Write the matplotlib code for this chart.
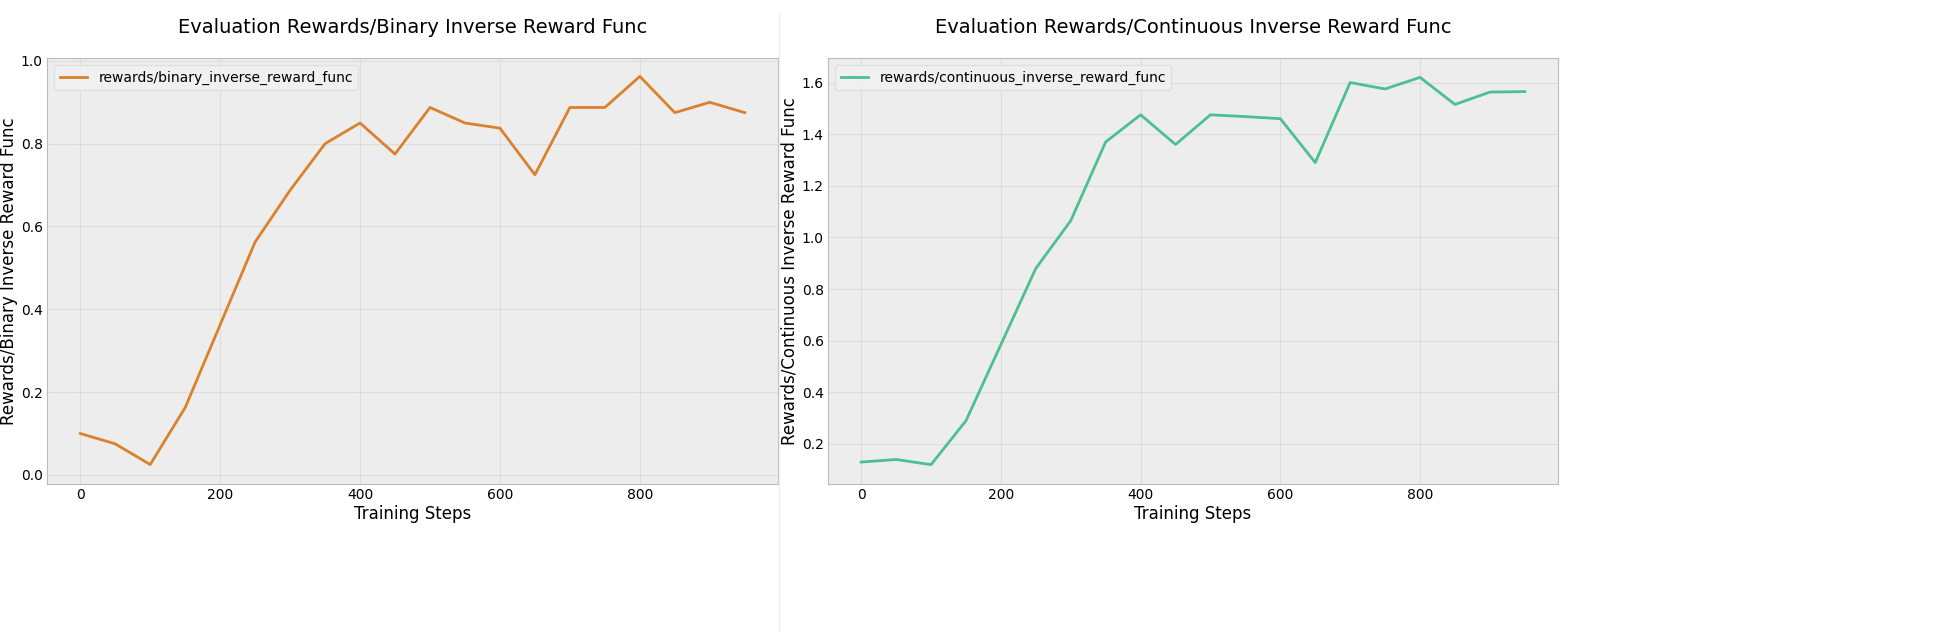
import matplotlib
matplotlib.use("Agg")
import matplotlib.pyplot as plt

steps = list(range(0, 1000, 50))
binary = [0.10, 0.075, 0.025, 0.1625, 0.3625, 0.5625, 0.6875, 0.80, 0.85, 0.775,
          0.8875, 0.85, 0.8375, 0.725, 0.8875, 0.8875, 0.9625, 0.875, 0.90, 0.875]
continuous = [0.13, 0.14, 0.12, 0.29, 0.585, 0.88, 1.065, 1.37, 1.475, 1.36,
              1.475, 1.468, 1.46, 1.29, 1.60, 1.575, 1.62, 1.515, 1.563, 1.565]

fig = plt.figure(figsize=(19.46, 6.44), dpi=100)
W, H = 1946, 644
ax1 = fig.add_axes([47/W, 1-484/H, 731/W, 426/H])
ax2 = fig.add_axes([828/W, 1-484/H, 730/W, 426/H])
fig.add_artist(plt.Line2D([779/W, 779/W], [0.02, 0.98], color="#eeeeee", lw=1))

specs = [
    (ax1, binary, "#d9822b", "rewards/binary_inverse_reward_func",
     "Evaluation Rewards/Binary Inverse Reward Func", "Rewards/Binary Inverse Reward Func",
     [0.0, 0.2, 0.4, 0.6, 0.8, 1.0]),
    (ax2, continuous, "#4dbf94", "rewards/continuous_inverse_reward_func",
     "Evaluation Rewards/Continuous Inverse Reward Func", "Rewards/Continuous Inverse Reward Func",
     [0.2, 0.4, 0.6, 0.8, 1.0, 1.2, 1.4, 1.6]),
]
for ax, ys, c, lab, title, ylab, yt in specs:
    ax.set_facecolor("#ededed")
    ax.plot(steps, ys, color=c, lw=2, label=lab)
    ax.grid(True, color="#dddddd", lw=0.8)
    ax.set_axisbelow(True)
    for s in ax.spines.values():
        s.set_color("#bbbbbb")
    ax.set_title(title, fontsize=14, pad=18)
    ax.set_xlabel("Training Steps", fontsize=12, labelpad=2)
    ax.set_ylabel(ylab, fontsize=12, labelpad=2)
    ax.set_xticks([0, 200, 400, 600, 800])
    ax.set_yticks(yt)
    ax.set_yticklabels([f"{v:.1f}" for v in yt])
    ax.tick_params(labelsize=10, length=0, pad=3)
    ax.set_xlim(-47.5, 997.5)
    leg = ax.legend(loc="upper left", fontsize=10, frameon=True)
    leg.get_frame().set_facecolor("#f2f2f2")
    leg.get_frame().set_edgecolor("#dddddd")
ax1.set_ylim(-0.022, 1.007)
ax2.set_ylim(0.045, 1.695)

fig.savefig("out.png", dpi=100, facecolor="white")
